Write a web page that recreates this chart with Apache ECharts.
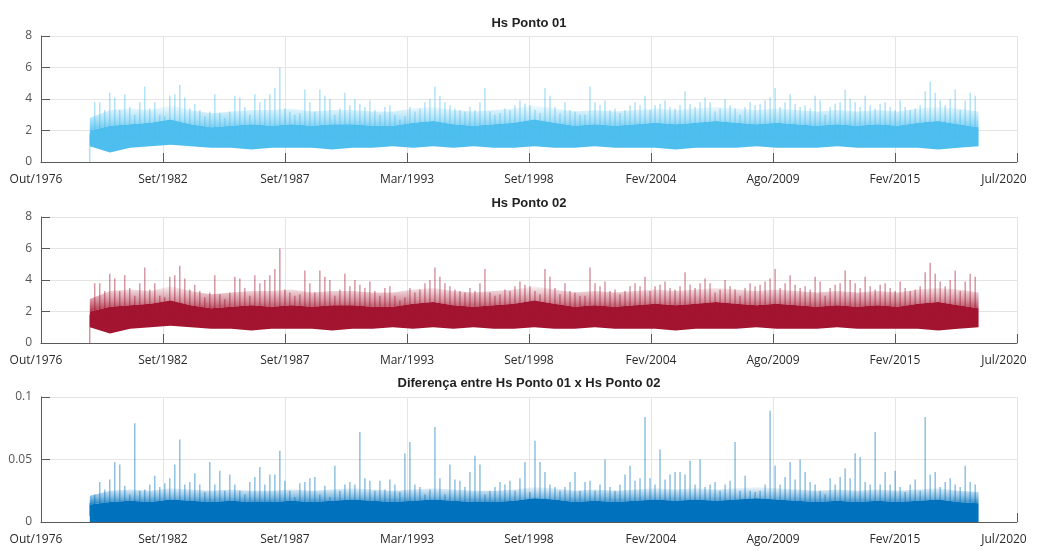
<!DOCTYPE html>
<html>
<head>
<meta charset="utf-8">
<script src="https://cdn.jsdelivr.net/npm/echarts@6/dist/echarts.min.js"></script>
<style>
  html, body { margin: 0; padding: 0; background: #fff; }
  #chart { width: 1037px; height: 551px; }
</style>
</head>
<body>
<div id="chart"></div>
<script>
// x axis is measured in tick intervals (0 = Out/1976 ... 8 = Jul/2020)
const xTickLabels = ['Out/1976', 'Set/1982', 'Set/1987', 'Mar/1993', 'Set/1998', 'Fev/2004', 'Ago/2009', 'Fev/2015', 'Jul/2020'];
const tStart = 0.40;    // first record
const tEnd = 7.685;     // last record
const binStep = 0.041;  // spacing of the peak readings

// Hs (m): max in each bin
const hs01First = 0;
const hs01Peak = [
  1.8, 3.8, 3.8, 3.3, 4.4, 4.1, 3.3, 4.3, 3.5, 3.0,
  3.8, 4.8, 3.4, 3.8, 3.0, 2.9, 4.2, 4.3, 4.9, 4.1,
  3.4, 3.7, 3.3, 2.9, 3.2, 4.3, 3.1, 2.8, 3.2, 4.2,
  4.1, 3.5, 3.0, 4.3, 3.8, 4.0, 4.3, 4.7, 6.0, 3.4,
  3.2, 3.0, 3.1, 4.6, 3.8, 3.2, 4.6, 4.2, 4.0, 3.0,
  3.4, 4.4, 3.6, 4.0, 3.7,
  3.5, 3.9, 3.3, 3.0, 3.5, 3.6, 3.0, 2.7, 2.9, 3.5,
  3.2, 3.4, 3.8, 4.0, 4.8, 4.2, 3.8, 3.6, 3.4, 3.3,
  3.2, 3.5, 3.3, 3.8, 4.7, 3.2, 3.0, 3.1, 3.4, 3.3,
  3.6, 3.9, 3.7, 3.6, 3.3, 3.1, 4.7, 4.2, 3.5, 3.1,
  3.8, 3.3, 3.2, 3.0, 3.0, 4.8, 3.8, 3.6, 3.9, 3.3,
  3.4, 3.1, 3.3, 3.6, 3.8, 3.6, 4.2, 3.3, 3.6, 3.7,
  3.9, 3.5, 3.4, 3.6, 4.5, 3.7, 3.5, 3.8,
  4.1, 3.8, 3.2, 3.4, 4.0, 3.6, 3.4, 3.0, 3.5, 3.8,
  3.6, 3.7, 3.9, 4.1, 4.7, 3.5, 3.8, 4.3, 3.7, 3.5,
  3.6, 3.4, 4.2, 3.9, 3.0, 3.5, 3.7, 3.8, 4.6, 4.0,
  3.8, 3.5, 4.2, 3.6, 3.4, 3.7, 3.8, 3.5, 3.3, 3.9,
  3.5, 3.3, 3.4, 3.6, 4.5, 5.1, 4.4, 3.9, 3.6, 4.0,
  4.6, 3.3, 3.9, 4.4, 4.2
];
// body of the record, coarse readings from tStart to tEnd:
// top of the dense spiky zone, top of the solid part, and bottom
const hs01Mid = [
  2.8, 3.3, 3.4, 3.3, 3.6, 3.3, 3.1, 3.2, 3.3, 3.3,
  3.4, 3.2, 3.3, 3.3, 3.2, 3.2, 3.4, 3.5, 3.3, 3.2,
  3.3, 3.4, 3.6, 3.4, 3.2, 3.3, 3.2, 3.3, 3.4, 3.3,
  3.4, 3.5, 3.4, 3.3, 3.4, 3.3, 3.2, 3.3, 3.2, 3.3,
  3.2, 3.4, 3.5, 3.4, 3.2
];
const hs01Core = [
  2.0, 2.3, 2.4, 2.5, 2.7, 2.4, 2.2, 2.3, 2.4, 2.3,
  2.4, 2.3, 2.4, 2.4, 2.3, 2.3, 2.5, 2.6, 2.4, 2.3,
  2.4, 2.5, 2.7, 2.5, 2.3, 2.4, 2.3, 2.4, 2.5, 2.4,
  2.5, 2.6, 2.5, 2.4, 2.5, 2.4, 2.3, 2.4, 2.3, 2.4,
  2.3, 2.5, 2.6, 2.4, 2.2
];
const hs01Low = [
  1.0, 0.6, 0.9, 1.0, 1.1, 1.0, 0.9, 0.9, 0.8, 0.9,
  0.9, 0.9, 0.8, 0.9, 0.9, 1.0, 0.9, 1.0, 0.9, 1.0,
  0.9, 0.9, 1.0, 0.9, 0.9, 1.0, 0.9, 0.9, 0.9, 0.8,
  0.9, 0.9, 0.9, 1.0, 0.9, 0.9, 0.9, 1.0, 0.9, 0.9,
  0.9, 0.9, 0.8, 0.9, 1.0
];
// Ponto 02 reads the same as Ponto 01 at this resolution (difference < 0.1 m)
const hs02First = hs01First;
const hs02Peak = hs01Peak;
const hs02Mid = hs01Mid;
const hs02Core = hs01Core;
const hs02Low = hs01Low;

// difference (m)
const diffPeak = [
  0.015, 0.022, 0.032, 0.026, 0.034, 0.048, 0.046, 0.029, 0.022, 0.079,
  0.025, 0.026, 0.030, 0.037, 0.028, 0.031, 0.035, 0.046, 0.066, 0.030,
  0.032, 0.039, 0.030, 0.024, 0.048, 0.030, 0.041, 0.025, 0.038, 0.030,
  0.025, 0.022, 0.032, 0.036, 0.044, 0.030, 0.038, 0.038, 0.057, 0.033,
  0.025, 0.020, 0.031, 0.032, 0.035, 0.036, 0.022, 0.029, 0.020, 0.045,
  0.025, 0.030, 0.032, 0.030, 0.072, 0.035, 0.033, 0.025, 0.033, 0.026,
  0.034, 0.030, 0.024, 0.055, 0.064, 0.030, 0.028, 0.022, 0.026, 0.076,
  0.035, 0.022, 0.046, 0.034, 0.033, 0.028, 0.040, 0.053, 0.046, 0.022,
  0.025, 0.028, 0.032, 0.030, 0.033, 0.025, 0.035, 0.048, 0.024, 0.065,
  0.048, 0.040, 0.030, 0.028, 0.025, 0.028, 0.032, 0.040, 0.025, 0.032,
  0.033, 0.025, 0.030, 0.050, 0.028, 0.025, 0.030, 0.038, 0.045, 0.033,
  0.035, 0.084, 0.035, 0.030, 0.058, 0.034, 0.038, 0.040, 0.040, 0.038,
  0.049, 0.030, 0.050, 0.028, 0.030, 0.032, 0.025, 0.030, 0.033, 0.064,
  0.025, 0.037, 0.025, 0.024, 0.025, 0.030, 0.089, 0.045, 0.030, 0.036,
  0.048, 0.034, 0.050, 0.040, 0.032, 0.030, 0.025, 0.022, 0.035, 0.030,
  0.036, 0.043, 0.035, 0.055, 0.052, 0.032, 0.030, 0.072, 0.030, 0.040,
  0.030, 0.041, 0.028, 0.024, 0.030, 0.034, 0.025, 0.084, 0.038, 0.040,
  0.028, 0.032, 0.035, 0.030, 0.028, 0.045, 0.032, 0.030
];
const diffMid = [
  0.021, 0.025, 0.026, 0.025, 0.027, 0.026, 0.025, 0.026, 0.025, 0.025,
  0.026, 0.025, 0.026, 0.027, 0.026, 0.025, 0.026, 0.027, 0.026, 0.025,
  0.025, 0.026, 0.028, 0.027, 0.025, 0.026, 0.025, 0.026, 0.027, 0.026,
  0.027, 0.026, 0.027, 0.028, 0.027, 0.026, 0.025, 0.026, 0.025, 0.026,
  0.025, 0.026, 0.027, 0.025, 0.024
];
const diffCore = [
  0.014, 0.016, 0.017, 0.016, 0.018, 0.017, 0.016, 0.017, 0.016, 0.016,
  0.017, 0.016, 0.017, 0.018, 0.017, 0.016, 0.017, 0.018, 0.017, 0.016,
  0.016, 0.017, 0.019, 0.018, 0.016, 0.017, 0.016, 0.017, 0.018, 0.017,
  0.018, 0.017, 0.018, 0.019, 0.018, 0.017, 0.016, 0.017, 0.016, 0.017,
  0.016, 0.017, 0.018, 0.016, 0.015
];

const colors = ['#4DBEEE', '#A2142F', '#0072BD'];
const gridLine = '#e4e4e4';
const axisGray = '#5a5a5a';

function coarseT(j, n) {
  return tStart + j * (tEnd - tStart) / (n - 1);
}

// one vertical stick per bin, from inside the solid body up to the peak
function stickData(peaks, base, first) {
  const out = [];
  if (first !== undefined) out.push([tStart, first]);
  peaks.forEach((v, i) => {
    const t = tStart + i * binStep;
    out.push([t, base], [t, v], [t, base]);
  });
  return out;
}

// filled polygon between two coarse envelopes (lower = null means the axis)
function bandSeries(g, lower, upper, fill) {
  return {
    type: 'custom', xAxisIndex: g, yAxisIndex: g, silent: true,
    data: [[tStart, 0]],
    renderItem: function (params, api) {
      const n = upper.length;
      const pts = upper.map((v, j) => api.coord([coarseT(j, n), v]));
      for (let j = n - 1; j >= 0; j--) {
        pts.push(api.coord([coarseT(j, n), lower ? lower[j] : 0]));
      }
      return {
        type: 'polygon', shape: { points: pts },
        style: { fill: fill, stroke: null }
      };
    }
  };
}

function fadeFill(color) {
  return new echarts.graphic.LinearGradient(0, 0, 0, 1, [
    { offset: 0, color: echarts.color.modifyAlpha(color, 0.05) },
    { offset: 0.55, color: echarts.color.modifyAlpha(color, 0.45) },
    { offset: 1, color: echarts.color.modifyAlpha(color, 0.85) }
  ]);
}

const grids = [
  { left: 41, right: 20, top: 36, height: 126 },
  { left: 41, right: 20, top: 217, height: 126 },
  { left: 41, right: 20, top: 397, height: 125 }
];

function xAxisFor(g) {
  return {
    type: 'value', gridIndex: g, min: 0, max: 8, interval: 1,
    axisLine: { show: true, onZero: false, lineStyle: { color: axisGray } },
    axisTick: { show: true, inside: true, length: 9, lineStyle: { color: axisGray } },
    splitLine: { show: true, lineStyle: { color: gridLine } },
    axisLabel: {
      margin: 12, color: '#2a2a2a', fontFamily: 'Open Sans', fontSize: 12,
      formatter: function (v) {
        const i = Math.round(v);
        if (i === 0) return '{first|' + xTickLabels[i] + '}';
        if (i === 8) return '{last|' + xTickLabels[i] + '}';
        return xTickLabels[i];
      },
      rich: {
        first: { fontFamily: 'Open Sans', fontSize: 12, color: '#2a2a2a', padding: [0, 10, 0, 0] },
        last: { fontFamily: 'Open Sans', fontSize: 12, color: '#2a2a2a', padding: [0, 26, 0, 0] }
      }
    }
  };
}

function yAxisFor(g, max, interval) {
  return {
    type: 'value', gridIndex: g, min: 0, max: max, interval: interval,
    axisLine: { show: true, lineStyle: { color: axisGray } },
    axisTick: { show: true, inside: true, length: 9, lineStyle: { color: axisGray } },
    splitLine: { show: true, lineStyle: { color: gridLine } },
    axisLabel: { margin: 9, color: '#555', fontFamily: 'Open Sans', fontSize: 12 }
  };
}

function recordSeries(g, color, first, peaks, base, mid, core, low) {
  return [
    bandSeries(g, core, mid, fadeFill(color)),
    {
      type: 'line', xAxisIndex: g, yAxisIndex: g, symbol: 'none', silent: true,
      data: stickData(peaks, base, first),
      lineStyle: { width: 1.1, color: color, opacity: 0.6 }
    },
    bandSeries(g, low, core, color)
  ];
}

function titleAt(text, top) {
  return {
    text: text, left: 529, top: top, textAlign: 'center', padding: 0,
    textStyle: { fontFamily: 'Liberation Sans', fontSize: 13, fontWeight: 'bold', color: '#222' }
  };
}

const chart = echarts.init(document.getElementById('chart'));
chart.setOption({
  animation: false,
  backgroundColor: '#fff',
  title: [
    titleAt('Hs Ponto 01', 17),
    titleAt('Hs Ponto 02', 197),
    titleAt('Diferença entre Hs Ponto 01 x Hs Ponto 02', 377)
  ],
  grid: grids,
  xAxis: [xAxisFor(0), xAxisFor(1), xAxisFor(2)],
  yAxis: [yAxisFor(0, 8, 2), yAxisFor(1, 8, 2), yAxisFor(2, 0.1, 0.05)],
  series: [].concat(
    recordSeries(0, colors[0], hs01First, hs01Peak, 1.5, hs01Mid, hs01Core, hs01Low),
    recordSeries(1, colors[1], hs02First, hs02Peak, 1.5, hs02Mid, hs02Core, hs02Low),
    recordSeries(2, colors[2], undefined, diffPeak, 0.005, diffMid, diffCore, null)
  )
});
</script>
</body>
</html>
